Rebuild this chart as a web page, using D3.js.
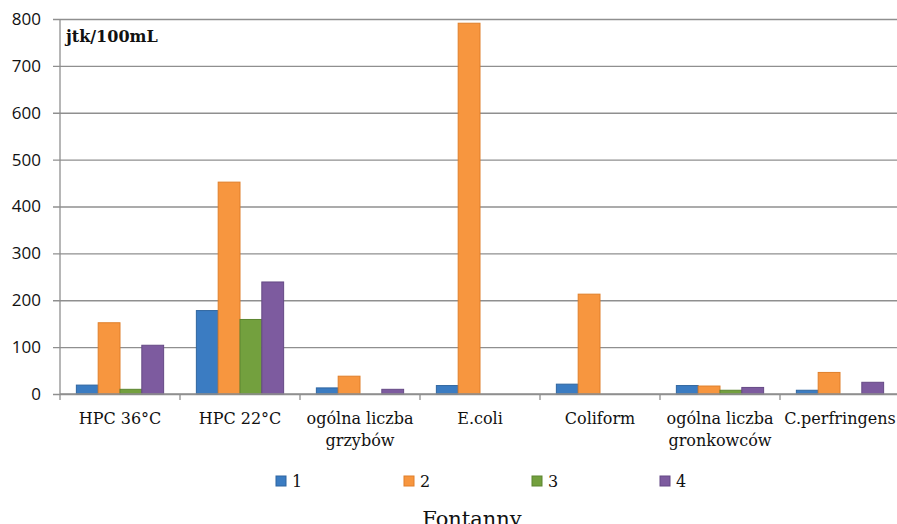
<!DOCTYPE html>
<html>
<head>
<meta charset="utf-8">
<script src="https://cdn.jsdelivr.net/npm/d3@7"></script>
<style>
  body { margin: 0; background: #fff; }
  svg text { font-family: "DejaVu Serif", "Liberation Serif", serif; }
</style>
</head>
<body>
<div id="chart"></div>
<script>
// categories and series (jtk/100mL)
const categories = ["HPC 36°C", "HPC 22°C", "ogólna liczba grzybów", "E.coli", "Coliform", "ogólna liczba gronkowców", "C.perfringens"];
const seriesNames = ["1", "2", "3", "4"];
const series1 = [19, 178, 13, 18, 21, 18, 8];
const series2 = [152, 452, 38, 791, 213, 17, 46];
const series3 = [10, 159, 0, 0, 0, 8, 0];
const series4 = [104, 239, 10, 0, 0, 14, 25];
const yTicks = [0, 100, 200, 300, 400, 500, 600, 700, 800];

const colors = ["#3b7cc2", "#f7963f", "#73a03e", "#7d5b9f"];
const strokes = ["#2f659f", "#e07f2a", "#5c8530", "#654985"];

const width = 897, height = 524;
const margin = { top: 19, left: 60, right: -3, bottom: 130 };

const svg = d3.select("#chart").append("svg")
  .attr("width", width)
  .attr("height", height);

const innerW = width - margin.left - margin.right;
const innerH = height - margin.top - margin.bottom;

const g = svg.append("g")
  .attr("transform", "translate(" + margin.left + "," + margin.top + ")");

const x0 = d3.scaleBand()
  .domain(categories)
  .range([0, innerW]);

const x1 = d3.scaleBand()
  .domain(seriesNames)
  .range([0, x0.bandwidth()])
  .paddingOuter(0.75)
  .paddingInner(0);

const y = d3.scaleLinear()
  .domain([0, 800])
  .range([innerH, 0]);

// gridlines + y axis labels
const yAxis = d3.axisLeft(y)
  .tickValues(yTicks)
  .tickSize(-innerW - 7)
  .tickPadding(12)
  .tickFormat(d3.format("d"));

const yAxisG = g.append("g")
  .attr("class", "y-axis")
  .attr("transform", "translate(-7,0)")
  .call(yAxis);
yAxisG.select(".domain").remove();
yAxisG.selectAll("line")
  .attr("stroke", "#8f8f8f")
  .attr("stroke-width", 1.3);
yAxisG.selectAll("text")
  .attr("fill", "#111")
  .style("font-family", "'Open Sans', sans-serif")
  .style("font-size", "17px");

// vertical axis line
g.append("line")
  .attr("x1", 0).attr("x2", 0)
  .attr("y1", 0).attr("y2", innerH)
  .attr("stroke", "#8f8f8f")
  .attr("stroke-width", 1.3);

// bars
const seriesData = [series1, series2, series3, series4];
const rows = categories.map((c, i) => ({
  category: c,
  values: seriesNames.map((s, j) => ({ key: s, idx: j, value: seriesData[j][i] }))
}));

const groups = g.selectAll(".group")
  .data(rows)
  .enter().append("g")
  .attr("class", "group")
  .attr("transform", d => "translate(" + x0(d.category) + ",0)");

groups.selectAll("rect")
  .data(d => d.values.filter(v => v.value > 0))
  .enter().append("rect")
  .attr("x", d => x1(d.key))
  .attr("y", d => y(d.value))
  .attr("width", x1.bandwidth())
  .attr("height", d => y(0) - y(d.value))
  .attr("fill", d => colors[d.idx])
  .attr("stroke", d => strokes[d.idx])
  .attr("stroke-width", 1);

// x axis baseline and ticks
const xAxisG = g.append("g")
  .attr("transform", "translate(0," + innerH + ")");
xAxisG.append("line")
  .attr("x1", 0).attr("x2", innerW)
  .attr("stroke", "#8f8f8f")
  .attr("stroke-width", 1.3);
xAxisG.selectAll(".xtick")
  .data(categories.concat(["end"]))
  .enter().append("line")
  .attr("x1", (d, i) => i * x0.bandwidth())
  .attr("x2", (d, i) => i * x0.bandwidth())
  .attr("y1", 0).attr("y2", 6)
  .attr("stroke", "#8f8f8f")
  .attr("stroke-width", 1.3);

// category labels (wrapped like the original)
const labelLines = {
  "ogólna liczba grzybów": ["ogólna liczba", "grzybów"],
  "ogólna liczba gronkowców": ["ogólna liczba", "gronkowców"]
};
categories.forEach(c => {
  const lines = labelLines[c] || [c];
  const t = xAxisG.append("text")
    .attr("x", x0(c) + x0.bandwidth() / 2)
    .attr("y", 30)
    .attr("text-anchor", "middle")
    .attr("fill", "#111")
    .style("font-size", "16px");
  lines.forEach((l, i) => {
    t.append("tspan")
      .attr("x", x0(c) + x0.bandwidth() / 2)
      .attr("dy", i === 0 ? 0 : 22)
      .text(l);
  });
});

// unit label
g.append("text")
  .attr("x", 6)
  .attr("y", 23)
  .attr("fill", "#111")
  .style("font-weight", "bold")
  .style("font-size", "16px")
  .text("jtk/100mL");

// legend
const legend = svg.append("g")
  .attr("transform", "translate(276,476)");
const legendItems = legend.selectAll(".item")
  .data(seriesNames)
  .enter().append("g")
  .attr("class", "item")
  .attr("transform", (d, i) => "translate(" + (i * 128) + ",0)");
legendItems.append("rect")
  .attr("width", 10).attr("height", 10)
  .attr("fill", (d, i) => colors[i])
  .attr("stroke", (d, i) => strokes[i]);
legendItems.append("text")
  .attr("x", 16)
  .attr("y", 11)
  .attr("fill", "#111")
  .style("font-size", "16px")
  .text(d => d);

// x axis title
svg.append("text")
  .attr("x", 472)
  .attr("y", 526)
  .attr("text-anchor", "middle")
  .attr("fill", "#111")
  .style("font-size", "21px")
  .text("Fontanny");
</script>
</body>
</html>
